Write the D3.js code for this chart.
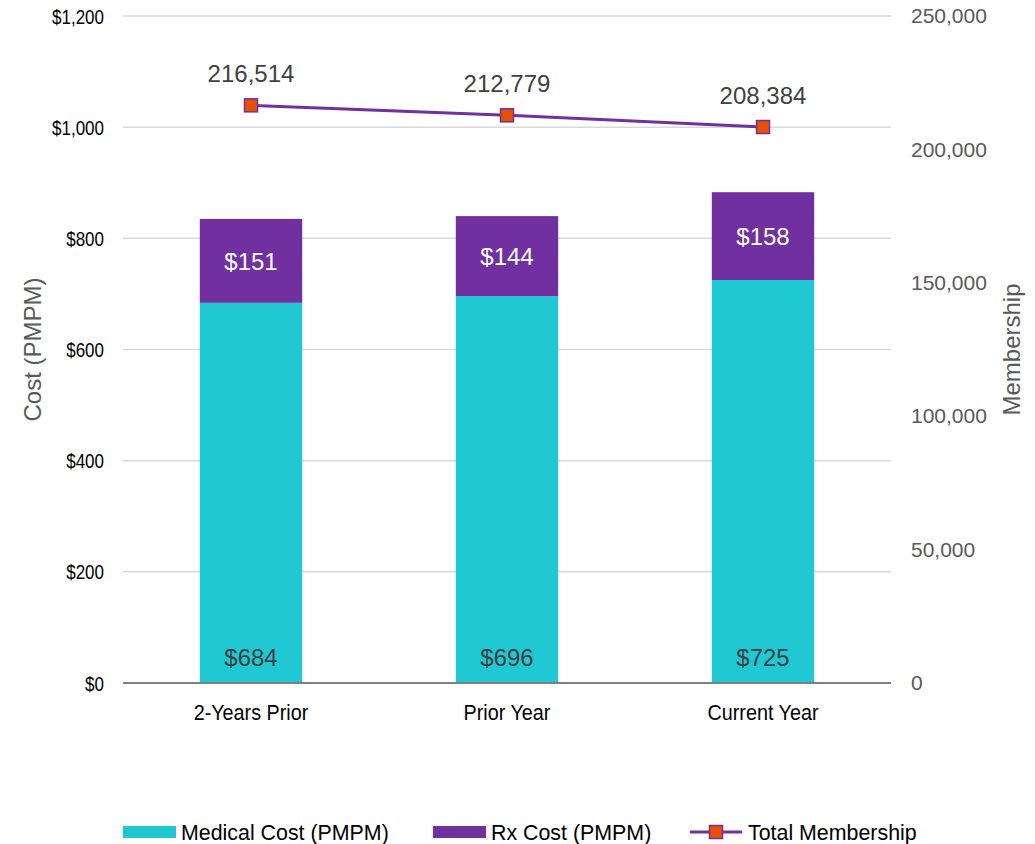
<!DOCTYPE html>
<html>
<head>
<meta charset="utf-8">
<script src="https://cdn.jsdelivr.net/npm/d3@7"></script>
<style>
  body { margin: 0; background: #fff; }
  text { font-family: "Liberation Sans", Arial, sans-serif; }
</style>
</head>
<body>
<svg id="chart" width="1035" height="844"></svg>
<script>
// chart data
const categories = ['2-Years Prior', 'Prior Year', 'Current Year'];
const medicalCost = [684, 696, 725];
const rxCost = [151, 144, 158];
const membership = [216514, 212779, 208384];
const costTicks = [0, 200, 400, 600, 800, 1000, 1200];
const memberTicks = [0, 50000, 100000, 150000, 200000, 250000];

const colors = { medical: '#1fc8d2', rx: '#7030a0', marker: '#e65100', grid: '#d9d9d9', axis: '#808080' };
const m = { left: 123, right: 891, top: 16, bottom: 683 };

const svg = d3.select('#chart');

const x = d3.scaleBand().domain(categories).range([m.left, m.right]).paddingInner(0.6).paddingOuter(0.3);
const yCost = d3.scaleLinear().domain([0, 1200]).range([m.bottom, m.top]);
const yMem = d3.scaleLinear().domain([0, 250000]).range([m.bottom, m.top]);

// no narrow font installed, so squeeze text horizontally
const narrow = (sel, sx) => sel.each(function () {
  const t = d3.select(this);
  const tx = +t.attr('x') || 0, ty = +t.attr('y') || 0;
  t.attr('x', 0).attr('y', 0)
    .attr('transform', `translate(${tx},${ty}) scale(${sx},1)`);
});

// gridlines
svg.append('g').selectAll('line').data(costTicks.slice(1)).join('line')
  .attr('x1', m.left).attr('x2', m.right)
  .attr('y1', d => yCost(d)).attr('y2', d => yCost(d))
  .attr('stroke', colors.grid).attr('stroke-width', 1.5);

// left axis
const leftAxis = svg.append('g').attr('transform', `translate(${m.left - 19},0)`)
  .call(d3.axisLeft(yCost).tickValues(costTicks).tickSize(0).tickPadding(0)
    .tickFormat(d => '$' + d3.format(',')(d)));
leftAxis.select('.domain').remove();
leftAxis.selectAll('text').attr('font-size', 20).attr('fill', '#000')
  .attr('x', 0).attr('y', 7).attr('dy', null)
  .attr('transform', 'scale(0.85,1)');

// right axis
const rightAxis = svg.append('g').attr('transform', `translate(${m.right + 20},0)`)
  .call(d3.axisRight(yMem).tickValues(memberTicks).tickSize(0).tickPadding(0)
    .tickFormat(d3.format(',')));
rightAxis.select('.domain').remove();
rightAxis.selectAll('text').attr('font-size', 21).attr('fill', '#595959');

// stacked bars
const stack = categories.map((c, i) => ({ cat: c, med: medicalCost[i], rx: rxCost[i] }));
const bars = svg.append('g');
bars.selectAll('rect.med').data(stack).join('rect').attr('class', 'med')
  .attr('x', d => x(d.cat)).attr('width', x.bandwidth())
  .attr('y', d => yCost(d.med)).attr('height', d => yCost(0) - yCost(d.med))
  .attr('fill', colors.medical);
bars.selectAll('rect.rx').data(stack).join('rect').attr('class', 'rx')
  .attr('x', d => x(d.cat)).attr('width', x.bandwidth())
  .attr('y', d => yCost(d.med + d.rx)).attr('height', d => yCost(d.med) - yCost(d.med + d.rx))
  .attr('fill', colors.rx);

// bar labels
bars.selectAll('text.med').data(stack).join('text')
  .attr('x', d => x(d.cat) + x.bandwidth() / 2).attr('y', yCost(0) - 17)
  .attr('text-anchor', 'middle').attr('font-size', 24).attr('fill', '#404040')
  .text(d => '$' + d.med);
bars.selectAll('text.rx').data(stack).join('text')
  .attr('x', d => x(d.cat) + x.bandwidth() / 2)
  .attr('y', d => (yCost(d.med) + yCost(d.med + d.rx)) / 2 + 9)
  .attr('text-anchor', 'middle').attr('font-size', 24).attr('fill', '#fff')
  .text(d => '$' + d.rx);

// x axis baseline
svg.append('line').attr('x1', m.left).attr('x2', m.right)
  .attr('y1', m.bottom).attr('y2', m.bottom)
  .attr('stroke', colors.axis).attr('stroke-width', 2);

svg.append('g').selectAll('text').data(categories).join('text')
  .attr('x', d => x(d) + x.bandwidth() / 2).attr('y', 720)
  .attr('text-anchor', 'middle').attr('font-size', 22).attr('fill', '#000')
  .text(d => d)
  .call(narrow, 0.9);

// membership line
const pts = categories.map((c, i) => [x(c) + x.bandwidth() / 2, yMem(membership[i])]);
svg.append('path').attr('d', d3.line()(pts))
  .attr('fill', 'none').attr('stroke', colors.rx).attr('stroke-width', 3);
svg.append('g').selectAll('rect').data(pts).join('rect')
  .attr('x', d => d[0] - 6.5).attr('y', d => d[1] - 6.5)
  .attr('width', 13).attr('height', 13)
  .attr('fill', colors.marker).attr('stroke', colors.rx).attr('stroke-width', 1.5);
svg.append('g').selectAll('text').data(pts).join('text')
  .attr('x', d => d[0]).attr('y', d => d[1] - 23)
  .attr('text-anchor', 'middle').attr('font-size', 24).attr('fill', '#404040')
  .text((d, i) => d3.format(',')(membership[i]));

// axis titles
svg.append('text').attr('transform', `translate(41,${(m.top + m.bottom) / 2}) rotate(-90)`)
  .attr('text-anchor', 'middle').attr('font-size', 24).attr('fill', '#595959')
  .text('Cost (PMPM)');
svg.append('text').attr('transform', `translate(1020,${(m.top + m.bottom) / 2}) rotate(-90)`)
  .attr('text-anchor', 'middle').attr('font-size', 24).attr('fill', '#595959')
  .text('Membership');

// legend
const legend = svg.append('g').attr('transform', 'translate(0,832)');
legend.append('rect').attr('x', 123).attr('y', -6).attr('width', 53).attr('height', 12).attr('fill', colors.medical);
legend.append('rect').attr('x', 433).attr('y', -6).attr('width', 53).attr('height', 12).attr('fill', colors.rx);
legend.append('line').attr('x1', 690).attr('x2', 742).attr('y1', 0).attr('y2', 0)
  .attr('stroke', colors.rx).attr('stroke-width', 3);
legend.append('rect').attr('x', 709.5).attr('y', -6.5).attr('width', 13).attr('height', 13)
  .attr('fill', colors.marker).attr('stroke', colors.rx).attr('stroke-width', 1.5);
legend.selectAll('text').data([[181, 'Medical Cost (PMPM)'], [491, 'Rx Cost (PMPM)'], [748, 'Total Membership']])
  .join('text')
  .attr('x', d => d[0]).attr('y', 8).attr('font-size', 23).attr('fill', '#000')
  .text(d => d[1])
  .call(narrow, 0.93);
</script>
</body>
</html>
